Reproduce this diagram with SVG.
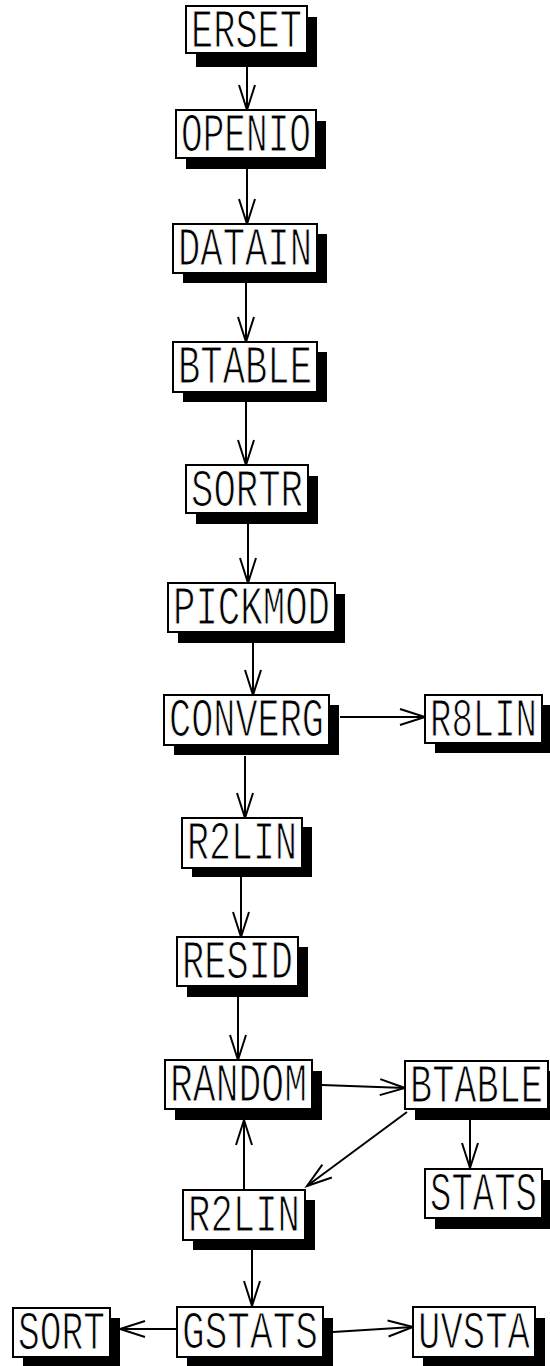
<svg xmlns="http://www.w3.org/2000/svg" width="550" height="1366" viewBox="0 0 550 1366">
<style>
.sh{fill:#000}
.bx{fill:#fff;stroke:#000;stroke-width:2}
.t{font-family:"Liberation Mono","DejaVu Sans Mono",monospace;font-size:54px;fill:#000;stroke:#fff;stroke-width:1.2;text-anchor:middle}
.c{fill:none;stroke:#000;stroke-width:2;marker-end:url(#ah)}
</style>
<defs>
<marker id="ah" markerUnits="userSpaceOnUse" markerWidth="30" markerHeight="20" refX="28" refY="10" orient="auto" overflow="visible">
<path d="M3,2 L28,10 L3,18" fill="none" stroke="#000" stroke-width="2"/>
</marker>
</defs>
<rect width="550" height="1366" fill="#fff"/>
<g id="connectors">
<line class="c" x1="247" y1="67" x2="247" y2="110"/>
<line class="c" x1="247" y1="169" x2="247" y2="224"/>
<line class="c" x1="246" y1="283" x2="246" y2="342"/>
<line class="c" x1="246" y1="402" x2="246" y2="465"/>
<line class="c" x1="248" y1="524" x2="248" y2="583"/>
<line class="c" x1="253" y1="643" x2="253" y2="695"/>
<line class="c" x1="340" y1="717" x2="425" y2="717"/>
<line class="c" x1="245" y1="756" x2="245" y2="818"/>
<line class="c" x1="241" y1="877" x2="241" y2="937"/>
<line class="c" x1="238" y1="997" x2="238" y2="1060"/>
<line class="c" x1="322" y1="1085" x2="405" y2="1088"/>
<line class="c" x1="470" y1="1120" x2="470" y2="1168"/>
<line class="c" x1="407" y1="1112" x2="307" y2="1186"/>
<line class="c" x1="244" y1="1190" x2="244" y2="1120"/>
<line class="c" x1="252" y1="1250" x2="252" y2="1306"/>
<line class="c" x1="177" y1="1329" x2="120" y2="1329"/>
<line class="c" x1="333" y1="1332" x2="413" y2="1327"/>
</g>
<g id="n-erset"><rect class="sh" x="196" y="17" width="121" height="50"/><rect class="bx" x="186" y="6" width="121" height="47"/><text class="t" transform="translate(246.5,47) scale(0.685,1)">ERSET</text></g>
<g id="n-openio"><rect class="sh" x="186" y="121" width="140" height="48"/><rect class="bx" x="176" y="110" width="140" height="48"/><text class="t" transform="translate(246,151) scale(0.669,1)">OPENIO</text></g>
<g id="n-datain"><rect class="sh" x="183" y="234" width="144" height="49"/><rect class="bx" x="173" y="224" width="144" height="49"/><text class="t" transform="translate(245,265) scale(0.689,1)">DATAIN</text></g>
<g id="n-btable1"><rect class="sh" x="183" y="352" width="144" height="50"/><rect class="bx" x="173" y="342" width="144" height="50"/><text class="t" transform="translate(245,383) scale(0.689,1)">BTABLE</text></g>
<g id="n-sortr"><rect class="sh" x="196" y="476" width="122" height="48"/><rect class="bx" x="186" y="465" width="122" height="48"/><text class="t" transform="translate(247,506) scale(0.691,1)">SORTR</text></g>
<g id="n-pickmod"><rect class="sh" x="178" y="594" width="167" height="49"/><rect class="bx" x="168" y="583" width="167" height="49"/><text class="t" transform="translate(251.5,624) scale(0.692,1)">PICKMOD</text></g>
<g id="n-converg"><rect class="sh" x="174" y="705" width="165" height="50"/><rect class="bx" x="164" y="695" width="165" height="50"/><text class="t" transform="translate(246.5,736) scale(0.683,1)">CONVERG</text></g>
<g id="n-r8lin"><rect class="sh" x="435" y="705" width="117" height="48"/><rect class="bx" x="425" y="695" width="117" height="48"/><text class="t" transform="translate(483.5,736) scale(0.66,1)">R8LIN</text></g>
<g id="n-r2lin1"><rect class="sh" x="192" y="827" width="120" height="50"/><rect class="bx" x="182" y="818" width="120" height="50"/><text class="t" transform="translate(242,859) scale(0.679,1)">R2LIN</text></g>
<g id="n-resid"><rect class="sh" x="187" y="947" width="121" height="50"/><rect class="bx" x="177" y="937" width="121" height="49"/><text class="t" transform="translate(237.5,978) scale(0.685,1)">RESID</text></g>
<g id="n-random"><rect class="sh" x="175" y="1071" width="147" height="49"/><rect class="bx" x="165" y="1060" width="147" height="49"/><text class="t" transform="translate(238.5,1101) scale(0.705,1)">RANDOM</text></g>
<g id="n-btable2"><rect class="sh" x="415" y="1071" width="143" height="49"/><rect class="bx" x="405" y="1061" width="143" height="48"/><text class="t" transform="translate(476.5,1102) scale(0.684,1)">BTABLE</text></g>
<g id="n-stats"><rect class="sh" x="435" y="1180" width="117" height="49"/><rect class="bx" x="425" y="1169" width="117" height="49"/><text class="t" transform="translate(483.5,1210) scale(0.66,1)">STATS</text></g>
<g id="n-r2lin2"><rect class="sh" x="193" y="1200" width="122" height="50"/><rect class="bx" x="183" y="1190" width="122" height="50"/><text class="t" transform="translate(244,1231) scale(0.691,1)">R2LIN</text></g>
<g id="n-sort"><rect class="sh" x="23" y="1318" width="97" height="49"/><rect class="bx" x="13" y="1308" width="97" height="49"/><text class="t" transform="translate(61.5,1349) scale(0.671,1)">SORT</text></g>
<g id="n-gstats"><rect class="sh" x="187" y="1318" width="146" height="49"/><rect class="bx" x="177" y="1307" width="146" height="50"/><text class="t" transform="translate(250,1348) scale(0.7,1)">GSTATS</text></g>
<g id="n-uvsta"><rect class="sh" x="423" y="1318" width="122" height="49"/><rect class="bx" x="413" y="1307" width="122" height="50"/><text class="t" transform="translate(474,1348) scale(0.691,1)">UVSTA</text></g>
</svg>
